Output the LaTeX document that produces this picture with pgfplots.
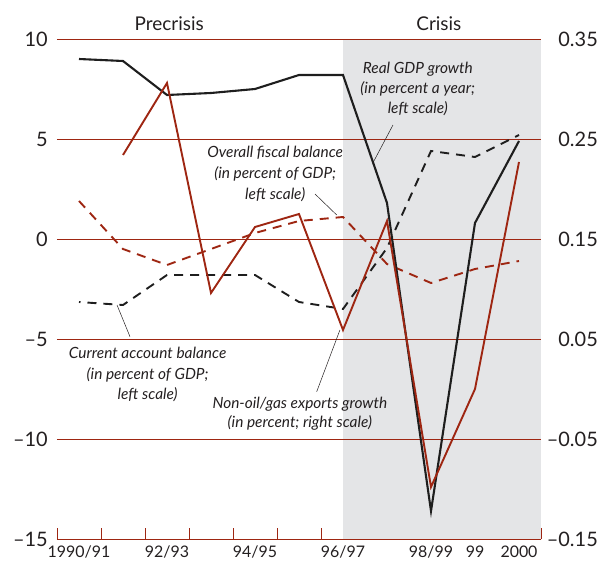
\documentclass[border=0pt]{standalone}
\usepackage{pgfplots}
\pgfplotsset{compat=1.18}
\usepackage{fontspec}
\setmainfont{Lato}
\definecolor{myred}{RGB}{158,38,18}
\definecolor{mygray}{RGB}{228,229,231}
\definecolor{myblack}{RGB}{30,30,30}
\definecolor{txt}{RGB}{35,31,32}
\pgfplotstableread{
x gdp fiscal ca
1 9.0 1.9 -3.15
2 8.9 -0.5 -3.3
3 7.2 -1.3 -1.8
4 7.3 -0.5 -1.8
5 7.5 0.3 -1.8
6 8.2 0.9 -3.15
7 8.2 1.1 -3.5
8 1.8 -1.25 -0.45
9 -13.6 -2.2 4.4
10 0.8 -1.5 4.1
11 4.9 -1.1 5.2
}\lefttab
\pgfplotstableread{
x exp
2 0.234
3 0.306
4 0.096
5 0.162
6 0.175
7 0.059
8 0.168
9 -0.098
10 0.0
11 0.227
}\righttab
\begin{document}
\begin{tikzpicture}
\begin{axis}[
  at={(0,0)}, anchor=south west,
  scale only axis, width=484bp, height=500bp,
  xmin=0.5, xmax=11.5, ymin=-15, ymax=10,
  axis x line*=bottom, axis y line*=left,
  x axis line style={-, draw=myred, line width=1bp},
  y axis line style={draw=none},
  major tick length=0pt, minor tick length=11bp,
  xtick align=inside,
  xtick={1,3,5,7,9,10,11},
  xticklabels={1990/91,92/93,94/95,96/97,98/99,99,2000},
  minor xtick={0.5,1.5,...,11.5},
  minor x tick style={myred, line width=0.9bp},
  ytick={-15,-10,-5,0,5,10},
  yticklabels={--15,--10,--5,0,5,10},
  xticklabel style={anchor=north, inner sep=0pt, yshift=-6.5bp, font=\fontsize{16}{18}\selectfont, text=txt},
  yticklabel style={anchor=east, inner sep=0pt, xshift=-9bp, font=\fontsize{20}{24}\selectfont, text=txt},
  clip=false,
]
\fill[mygray] (axis cs:7,-15) rectangle (axis cs:11.5,10);
\draw[myred, line width=0.9bp] (axis cs:0.5,10) -- (axis cs:11.5,10);
\draw[myred, line width=0.9bp] (axis cs:0.5,5) -- (axis cs:11.5,5);
\draw[myred, line width=0.9bp] (axis cs:0.5,0) -- (axis cs:11.5,0);
\draw[myred, line width=0.9bp] (axis cs:0.5,-5) -- (axis cs:11.5,-5);
\draw[myred, line width=0.9bp] (axis cs:0.5,-10) -- (axis cs:11.5,-10);
\addplot[myred, line width=1.9bp, dash pattern=on 9bp off 7bp] table[x=x, y=fiscal] {\lefttab};
\addplot[myblack, line width=1.9bp, dash pattern=on 9bp off 7bp, dash phase=7.5bp] table[x=x, y=ca] {\lefttab};
\addplot[myblack, line width=2.1bp] table[x=x, y=gdp] {\lefttab};
% labels
\node[anchor=base, font=\fontsize{19}{22}\selectfont, text=txt] at (axis cs:3.05,10.4) {Precrisis};
\node[anchor=base, font=\fontsize{19}{22}\selectfont, text=txt] at (axis cs:9.18,10.4) {Crisis};
\tikzset{ann/.style={anchor=base, font=\itshape\fontsize{15.5}{18}\selectfont, text=txt}}
\node[ann] at (axis cs:8.7,8.285) {Real GDP growth};
\node[ann] at (axis cs:8.7,7.25) {(in percent a year;};
\node[ann] at (axis cs:8.7,6.25) {left scale)};
\node[ann] at (axis cs:5.46,4.065) {Overall fiscal balance};
\node[ann] at (axis cs:5.46,3.0) {(in percent of GDP;};
\node[ann] at (axis cs:5.46,1.95) {left scale)};
\node[ann] at (axis cs:2.56,-5.97) {Current account balance};
\node[ann] at (axis cs:2.56,-7.05) {(in percent of GDP;};
\node[ann] at (axis cs:2.56,-8.05) {left scale)};
\node[ann] at (axis cs:6.02,-8.47) {Non-oil/gas exports growth};
\node[ann] at (axis cs:6.02,-9.42) {(in percent; right scale)};
\draw[txt, line width=0.5bp] (axis cs:8.136,5.7) -- (axis cs:7.675,3.785);
\draw[txt, line width=0.5bp] (axis cs:6.364,2.25) -- (axis cs:6.857,1.2);
\draw[txt, line width=0.5bp] (axis cs:2.159,-4.885) -- (axis cs:1.864,-3.3);
\draw[txt, line width=0.5bp] (axis cs:6.402,-7.635) -- (axis cs:6.93,-4.55);
\end{axis}
\begin{axis}[
  at={(0,0)}, anchor=south west,
  scale only axis, width=484bp, height=500bp,
  xmin=0.5, xmax=11.5, ymin=-0.15, ymax=0.35,
  hide x axis,
  axis y line*=right,
  y axis line style={draw=none},
  major tick length=0pt,
  ytick={-0.15,-0.05,0.05,0.15,0.25,0.35},
  yticklabels={--0.15,--0.05,0.05,0.15,0.25,0.35},
  yticklabel style={anchor=east, inner sep=0pt, xshift=57bp, font=\fontsize{20}{24}\selectfont, text=txt},
  clip=false,
]
\addplot[myred, line width=1.9bp] table[x=x, y=exp] {\righttab};
\end{axis}
\pgfresetboundingbox
\path[use as bounding box] (-57bp,-22bp) rectangle (543bp,539bp);
\end{tikzpicture}
\end{document}
